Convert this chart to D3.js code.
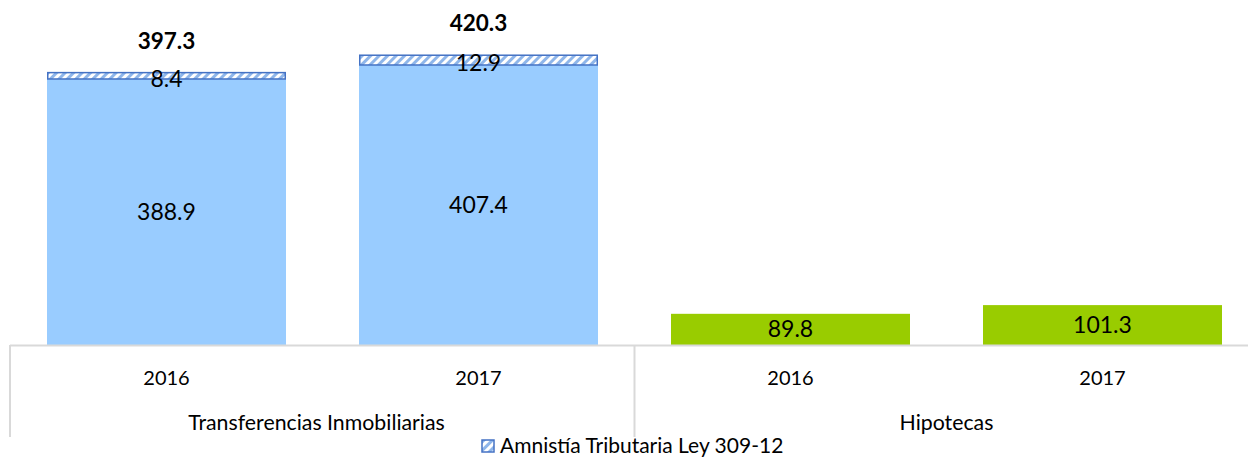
<!DOCTYPE html>
<html>
<head>
<meta charset="utf-8">
<script src="https://cdn.jsdelivr.net/npm/d3@7/dist/d3.min.js"></script>
<style>
  body { margin: 0; background: #fff; }
  svg { display: block; font-family: Lato, "Open Sans", sans-serif; }
</style>
</head>
<body>
<div id="chart"></div>
<script>
var groups = ["Transferencias Inmobiliarias", "Hipotecas"];
var years = ["2016", "2017"];
var baseValues = [388.9, 407.4, 89.8, 101.3];
var amnistiaValues = [8.4, 12.9, null, null];
var totalValues = [397.3, 420.3, null, null];
var legendLabel = "Amnistía Tributaria Ley 309-12";

var width = 1248, height = 457;
var baseY = 345;

var svg = d3.select("#chart").append("svg")
  .attr("width", width)
  .attr("height", height);

// hatch pattern for the amnesty series
var defs = svg.append("defs");
var pat = defs.append("pattern")
  .attr("id", "hatch")
  .attr("patternUnits", "userSpaceOnUse")
  .attr("width", 6).attr("height", 6)
  .attr("patternTransform", "rotate(45)");
pat.append("rect").attr("width", 6).attr("height", 6).attr("fill", "#ffffff");
pat.append("rect").attr("width", 3).attr("height", 6).attr("fill", "#8fb6ea");

// one band per bar (group x year)
var keys = [];
groups.forEach(function(g, gi) {
  years.forEach(function(y, yi) { keys.push(gi * 2 + yi); });
});

var x = d3.scaleBand()
  .domain(keys)
  .range([10.5, 1258.5])
  .paddingInner(0.234)
  .paddingOuter(0.117);

// primary axis (transferencias) and secondary axis (hipotecas), both hidden
var yPrim = d3.scaleLinear().domain([37.5, 37.5 + baseY / 0.757]).range([baseY, 0]);
var ySec = d3.scaleLinear().domain([48.6, 48.6 + baseY / 0.757]).range([baseY, 0]);
var yFor = function(i) { return i < 2 ? yPrim : ySec; };

var data = keys.map(function(k) {
  return { i: k, base: baseValues[k], extra: amnistiaValues[k], total: totalValues[k] };
});

// base bars
svg.selectAll(".bar")
  .data(data)
  .enter()
  .append("rect")
  .attr("class", "bar")
  .attr("x", function(d) { return x(d.i); })
  .attr("width", x.bandwidth())
  .attr("y", function(d) { return yFor(d.i)(d.base); })
  .attr("height", function(d) { return baseY - yFor(d.i)(d.base); })
  .attr("fill", function(d) { return d.i < 2 ? "#99ccff" : "#99cc00"; });

// stacked amnesty segments
var stacked = data.filter(function(d) { return d.extra != null; });
svg.selectAll(".extra")
  .data(stacked)
  .enter()
  .append("rect")
  .attr("class", "extra")
  .attr("x", function(d) { return x(d.i) + 0.75; })
  .attr("width", x.bandwidth() - 1.5)
  .attr("y", function(d) { return yFor(d.i)(d.base + d.extra); })
  .attr("height", function(d) { return yFor(d.i)(d.base) - yFor(d.i)(d.base + d.extra); })
  .attr("fill", "url(#hatch)")
  .attr("stroke", "#4472c4")
  .attr("stroke-width", 1.5);

// axis lines
var axisCol = "#d9d9d9";
svg.append("line")
  .attr("x1", 10).attr("x2", width)
  .attr("y1", baseY + 0.5).attr("y2", baseY + 0.5)
  .attr("stroke", axisCol).attr("stroke-width", 2);
[10, (x(1) + x.bandwidth() + x(2)) / 2].forEach(function(px) {
  svg.append("line")
    .attr("x1", px).attr("x2", px)
    .attr("y1", baseY).attr("y2", 437)
    .attr("stroke", axisCol).attr("stroke-width", 2);
});

var center = function(i) { return x(i) + x.bandwidth() / 2; };

// value labels
svg.selectAll(".lbl")
  .data(data)
  .enter()
  .append("text")
  .attr("x", function(d) { return center(d.i); })
  .attr("y", function(d) { var s = yFor(d.i); return (s(d.base) + baseY) / 2; })
  .attr("dy", "0.35em")
  .attr("text-anchor", "middle")
  .attr("font-size", "23px")
  .attr("fill", "#000")
  .text(function(d) { return d.base.toFixed(1); });

svg.selectAll(".lblx")
  .data(stacked)
  .enter()
  .append("text")
  .attr("x", function(d) { return center(d.i); })
  .attr("y", function(d) { var s = yFor(d.i); return (s(d.base) + s(d.base + d.extra)) / 2 + 3; })
  .attr("dy", "0.35em")
  .attr("text-anchor", "middle")
  .attr("font-size", "23px")
  .attr("fill", "#000")
  .text(function(d) { return d.extra.toFixed(1); });

svg.selectAll(".tot")
  .data(stacked)
  .enter()
  .append("text")
  .attr("x", function(d) { return center(d.i); })
  .attr("y", function(d) { return yFor(d.i)(d.total) - 32; })
  .attr("dy", "0.35em")
  .attr("text-anchor", "middle")
  .attr("font-size", "22.5px")
  .attr("font-weight", "bold")
  .attr("fill", "#000")
  .text(function(d) { return d.total.toFixed(1); });

// category labels
svg.selectAll(".yr")
  .data(keys)
  .enter()
  .append("text")
  .attr("x", function(k) { return center(k); })
  .attr("y", 378)
  .attr("dy", "0.35em")
  .attr("text-anchor", "middle")
  .attr("font-size", "20px")
  .attr("fill", "#000")
  .text(function(k) { return years[k % 2]; });

svg.selectAll(".grp")
  .data(groups)
  .enter()
  .append("text")
  .attr("x", function(g, gi) { return (center(gi * 2) + center(gi * 2 + 1)) / 2 - (gi === 0 ? 6 : 0); })
  .attr("y", 423)
  .attr("dy", "0.35em")
  .attr("text-anchor", "middle")
  .attr("font-size", "21.3px")
  .attr("fill", "#000")
  .text(function(g) { return g; });

// legend
var leg = svg.append("g").attr("transform", "translate(482,440)");
leg.append("rect")
  .attr("width", 12).attr("height", 12)
  .attr("fill", "url(#hatch)")
  .attr("stroke", "#4472c4").attr("stroke-width", 1.5);
leg.append("text")
  .attr("x", 18).attr("y", 6)
  .attr("dy", "0.32em")
  .attr("font-size", "21px")
  .attr("fill", "#000")
  .text(legendLabel);
</script>
</body>
</html>
